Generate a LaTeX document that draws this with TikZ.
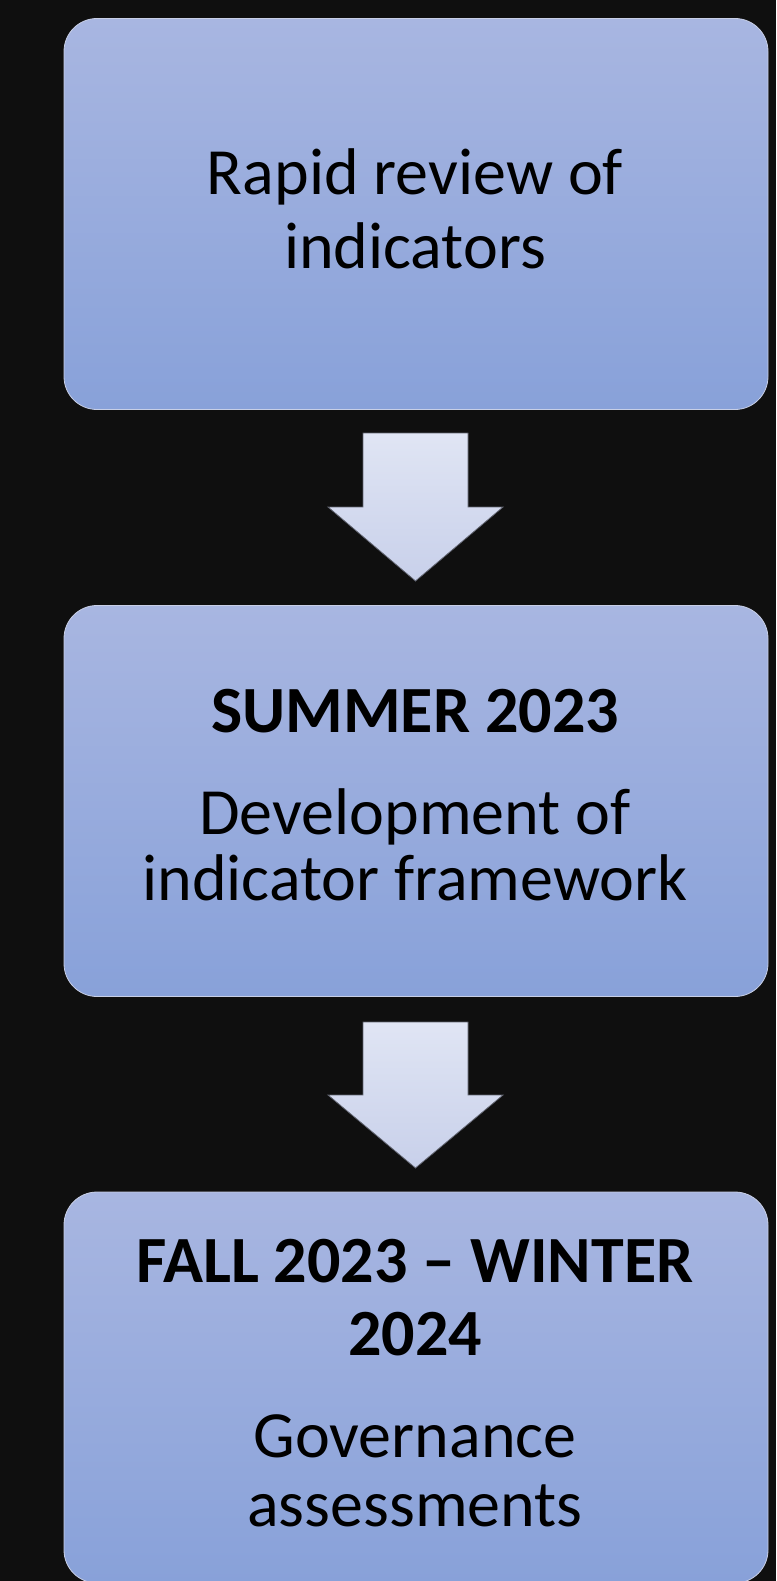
\documentclass[tikz,border=0pt]{standalone}
\usepackage{fontspec}
\setmainfont{Carlito}
\definecolor{bgc}{RGB}{15,15,15}
\definecolor{boxtop}{RGB}{168,182,225}
\definecolor{boxbot}{RGB}{136,161,217}
\definecolor{boxedge}{RGB}{200,207,230}
\definecolor{arrtop}{RGB}{224,229,244}
\definecolor{arrbot}{RGB}{200,208,234}
\definecolor{arredge}{RGB}{95,98,110}
\tikzset{
  stagebox/.style={rounded corners=33pt, minimum width=704pt, minimum height=391pt,
    inner sep=0pt, top color=boxtop, bottom color=boxbot, draw=boxedge, line width=0.8pt},
  blockarrow/.style={top color=arrtop, bottom color=arrbot, draw=arredge, line width=0.8pt},
  txt/.style={anchor=base, inner sep=0pt, font=\fontsize{66pt}{66pt}\selectfont, text=black},
  btxt/.style={txt, font=\fontsize{66pt}{66pt}\selectfont\bfseries}
}
\begin{document}
\begin{tikzpicture}[x=1pt,y=-1pt]
\fill[bgc] (0,0) rectangle (776,1581);
\useasboundingbox (0,0) rectangle (776,1581);
\node[stagebox] (b1) at (416,214) {};
\node[stagebox] (b2) at (416,801) {};
\node[stagebox] (b3) at (416,1387.5) {};
% arrows
\path[blockarrow] (363,433) -- (468,433) -- (468,507) -- (503,507) -- (415.5,581) -- (328,507) -- (363,507) -- cycle;
\path[blockarrow] (363,1022) -- (468,1022) -- (468,1095) -- (503,1095) -- (415.5,1168) -- (328,1095) -- (363,1095) -- cycle;
% texts
\node[txt] (t1a) at (415,195) {Rapid review of};
\node[txt] (t1b) at (415,268.3) {indicators};
\node[btxt] (t2a) at (415,732.7) {SUMMER 2023};
\node[txt] (t2b) at (415,834) {Development of};
\node[txt] (t2c) at (415,900) {indicator framework};
\node[btxt] (t3a) at (415,1282.7) {FALL 2023 – WINTER};
\node[btxt] (t3b) at (415,1355) {2024};
\node[txt] (t3c) at (415,1457.3) {Governance};
\node[txt] (t3d) at (415,1526.7) {assessments};
\end{tikzpicture}
\end{document}
